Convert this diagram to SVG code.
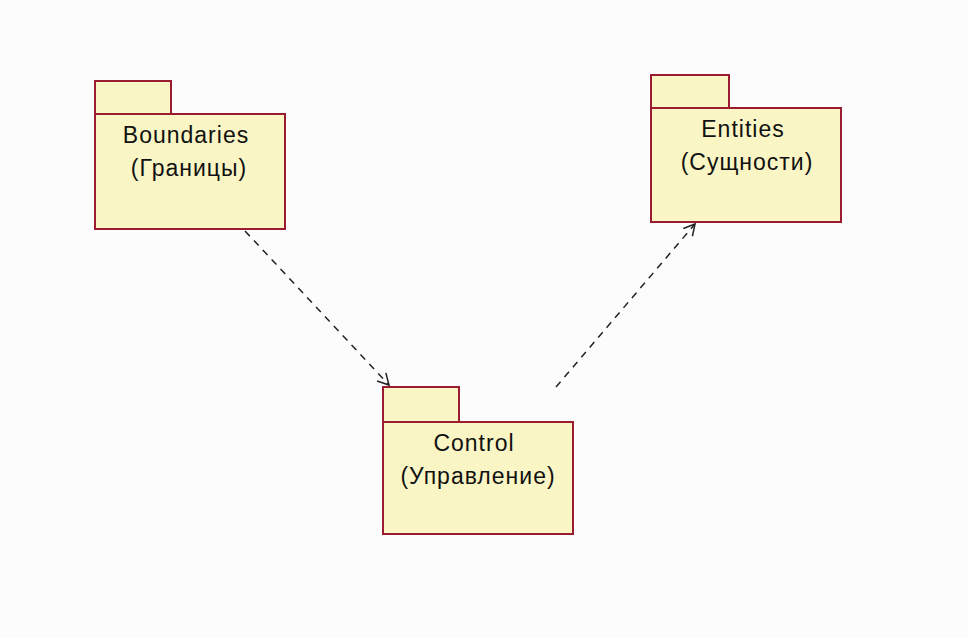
<svg xmlns="http://www.w3.org/2000/svg" width="968" height="638" viewBox="0 0 968 638">
<style>
.pk{fill:#f9f5c4;stroke:#9b1b30;stroke-width:2}
.t{font-family:"Liberation Sans",Arial,sans-serif;font-size:23px;letter-spacing:1px;fill:#111;text-anchor:middle}
.c{fill:none;stroke:#222;stroke-width:1.5;stroke-dasharray:7,6}
</style>
<defs>
<marker id="open" markerWidth="14" markerHeight="14" refX="12" refY="7" orient="auto" markerUnits="userSpaceOnUse">
<path d="M1,1 L12,7 L1,13" fill="none" stroke="#222" stroke-width="1.5"/>
</marker>
</defs>
<rect width="968" height="638" fill="#fcfcfc"/>
<g id="connectors">
<line class="c" x1="245" y1="231" x2="389" y2="385" marker-end="url(#open)"/>
<line class="c" x1="556" y1="387" x2="695" y2="224" marker-end="url(#open)"/>
</g>
<g id="boundaries">
<rect class="pk" x="95" y="81" width="76" height="33"/>
<rect class="pk" x="95" y="114" width="190" height="115"/>
<text class="t" x="186" y="143">Boundaries</text>
<text class="t" x="189" y="176">(Границы)</text>
</g>
<g id="entities">
<rect class="pk" x="651" y="75" width="78" height="33"/>
<rect class="pk" x="651" y="108" width="190" height="114"/>
<text class="t" x="743" y="137">Entities</text>
<text class="t" x="747" y="170">(Сущности)</text>
</g>
<g id="control">
<rect class="pk" x="383" y="387" width="76" height="35"/>
<rect class="pk" x="383" y="422" width="190" height="112"/>
<text class="t" x="474" y="451">Control</text>
<text class="t" x="478" y="484">(Управление)</text>
</g>
</svg>
